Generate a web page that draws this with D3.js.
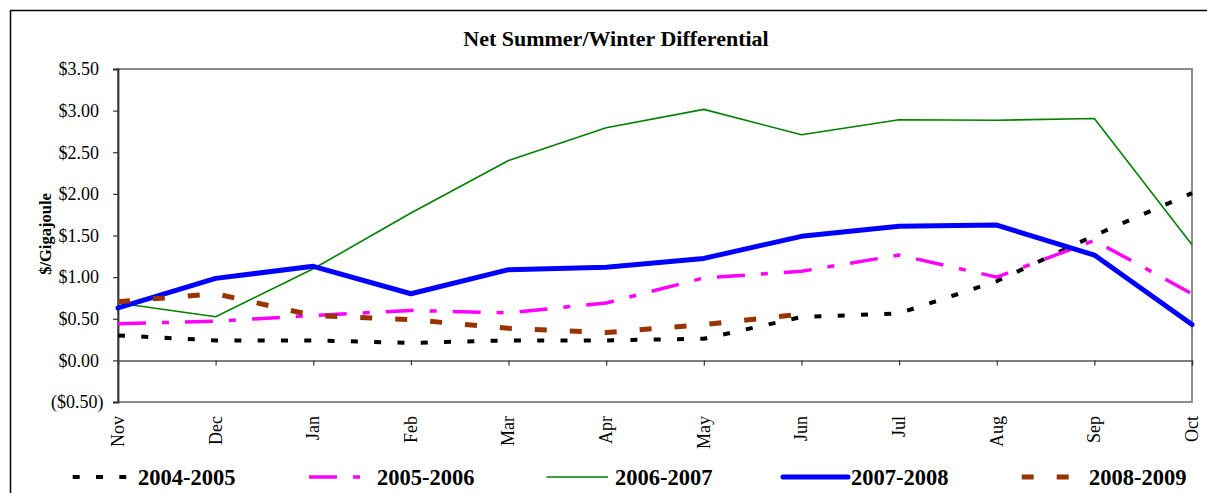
<!DOCTYPE html>
<html>
<head>
<meta charset="utf-8">
<script src="https://cdn.jsdelivr.net/npm/d3@7"></script>
<style>
  html, body { margin: 0; padding: 0; background: #fff; }
  svg { display: block; font-family: "Liberation Serif", "Times New Roman", serif; }
</style>
</head>
<body>
<svg id="chart" width="1207" height="493"></svg>
<script>
// ---- data ----
const months = ["Nov","Dec","Jan","Feb","Mar","Apr","May","Jun","Jul","Aug","Sep","Oct"];
const yTicks = [-0.5, 0, 0.5, 1, 1.5, 2, 2.5, 3, 3.5];
const seriesNames = ["2004-2005","2005-2006","2006-2007","2007-2008","2008-2009"];
const s2004 = [0.30, 0.24, 0.24, 0.21, 0.24, 0.24, 0.26, 0.52, 0.565, 0.95, 1.50, 2.01];
const s2005 = [0.44, 0.47, 0.54, 0.60, 0.57, 0.69, 0.99, 1.07, 1.265, 1.00, 1.44, 0.80];
const s2006 = [0.69, 0.525, 1.10, 1.77, 2.40, 2.795, 3.015, 2.71, 2.89, 2.885, 2.905, 1.39];
const s2007 = [0.63, 0.985, 1.13, 0.80, 1.09, 1.12, 1.225, 1.49, 1.61, 1.625, 1.265, 0.43];
const s2008 = [0.705, 0.80, 0.54, 0.49, 0.385, 0.335, 0.43, 0.555];

const seriesValues = [s2004, s2005, s2006, s2007, s2008];
const styles = [
  { color: "#000000", width: 4,   dash: "7,16.3", cap: "butt" },
  { color: "#FF00FF", width: 3.5, dash: "28,16,7,16", cap: "butt" },
  { color: "#008000", width: 1.6, dash: null, cap: "butt" },
  { color: "#0000FF", width: 5,   dash: null, cap: "round" },
  { color: "#993300", width: 5,   dash: "12,23", cap: "butt" }
];
const legendPos = [
  { x1: 72.7, x2: 126.5, tx: 138 },
  { x1: 309,  x2: 360,   tx: 377 },
  { x1: 546.5, x2: 608,  tx: 615 },
  { x1: 783,  x2: 848,   tx: 851 },
  { x1: 1021.7, x2: 1070, tx: 1089 }
];

// ---- layout ----
const svg = d3.select("#chart");
const L = 118, R = 1192, T = 69, B = 402;

const x = d3.scalePoint().domain(months).range([L, R]);
const y = d3.scaleLinear().domain([-0.5, 3.5]).range([B, T]);

// outer border (chart area, cropped at right/bottom)
svg.append("rect")
  .attr("x", 10.5).attr("y", 10.5)
  .attr("width", 1230).attr("height", 520)
  .attr("fill", "none").attr("stroke", "#000").attr("stroke-width", 1.5);

// plot area border
svg.append("rect")
  .attr("x", L).attr("y", T).attr("width", R - L).attr("height", B - T)
  .attr("fill", "none").attr("stroke", "#8c8c8c").attr("stroke-width", 2);

// title
svg.append("text")
  .attr("x", 616).attr("y", 46)
  .attr("text-anchor", "middle")
  .attr("font-weight", "bold").attr("font-size", 22)
  .text("Net Summer/Winter Differential");

// y axis
const fmt = v => v < 0 ? "($" + Math.abs(v).toFixed(2) + ")" : "$" + v.toFixed(2);
const yAxis = svg.append("g")
  .attr("transform", `translate(${L},0)`)
  .call(d3.axisLeft(y).tickValues(yTicks).tickSize(5).tickPadding(14).tickFormat(fmt));
yAxis.select(".domain").attr("stroke", "#333").attr("stroke-width", 1.8);
yAxis.selectAll(".tick line").attr("stroke", "#333").attr("stroke-width", 1.2);
yAxis.selectAll(".tick text")
  .attr("font-family", "Liberation Serif, serif")
  .attr("font-size", 18).attr("fill", "#000")
  .attr("dx", d => d < 0 ? 4.5 : 0);

// x axis at zero line
const xAxis = svg.append("g")
  .attr("transform", `translate(0,${y(0)})`)
  .call(d3.axisBottom(x).tickSize(5).tickFormat(""));
xAxis.select(".domain").attr("stroke", "#555").attr("stroke-width", 1.5);
xAxis.selectAll(".tick line").attr("stroke", "#333").attr("stroke-width", 1.2);

// x labels (rotated)
svg.append("g").selectAll("text")
  .data(months).join("text")
  .attr("transform", d => `translate(${x(d)},416) rotate(-90)`)
  .attr("text-anchor", "end")
  .attr("dy", "0.33em")
  .attr("font-size", 18)
  .text(d => d);

// y title
svg.append("text")
  .attr("transform", "translate(45,234) rotate(-90)")
  .attr("text-anchor", "middle")
  .attr("dy", "0.35em")
  .attr("font-weight", "bold").attr("font-size", 16.5)
  .text("$/Gigajoule");

// series lines
const line = d3.line().x((d, i) => x(months[i])).y(d => y(d));
seriesValues.forEach((vals, k) => {
  const st = styles[k];
  svg.append("path")
    .datum(vals)
    .attr("d", line)
    .attr("fill", "none")
    .attr("stroke", st.color)
    .attr("stroke-width", st.width)
    .attr("stroke-linejoin", "round")
    .attr("stroke-linecap", st.cap)
    .attr("stroke-dasharray", st.dash);
});

// legend
const lg = svg.append("g");
seriesNames.forEach((name, k) => {
  const st = styles[k], p = legendPos[k];
  lg.append("line")
    .attr("x1", p.x1).attr("x2", p.x2).attr("y1", 477).attr("y2", 477)
    .attr("stroke", st.color).attr("stroke-width", st.width)
    .attr("stroke-linecap", st.cap)
    .attr("stroke-dasharray", st.dash);
  lg.append("text")
    .attr("x", p.tx).attr("y", 485)
    .attr("font-weight", "bold").attr("font-size", 22.5)
    .text(name);
});
</script>
</body>
</html>
